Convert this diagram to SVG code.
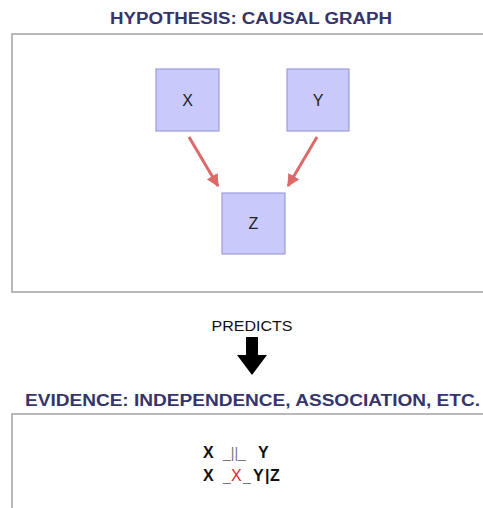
<svg xmlns="http://www.w3.org/2000/svg" width="483" height="508" viewBox="0 0 483 508">
<defs>
<style>
.title{font-family:"Liberation Sans",Arial,sans-serif;font-weight:bold;font-size:16px;fill:#35356a}
.panel{fill:#fff;stroke:#a8a8a8;stroke-width:1.6}
.node rect{fill:#c9c9fb;stroke:#9c9ce0;stroke-width:1.2}
.node text{font-family:"Liberation Sans",Arial,sans-serif;font-size:16px;fill:#222;text-anchor:middle}
.edge{stroke:#dc6a6a;stroke-width:3;fill:none;marker-end:url(#ah)}
.ev{font-family:"Liberation Sans",Arial,sans-serif;font-weight:bold;font-size:16px;fill:#111}
.sym{font-family:"Liberation Sans",Arial,sans-serif;font-size:14px;fill:#777}
</style>
<marker id="ah" viewBox="0 0 10 10" refX="9" refY="5" markerWidth="4.2" markerHeight="4.2" orient="auto" markerUnits="strokeWidth">
<path d="M0,0 L10,5 L0,10 Z" fill="#dc6a6a"/>
</marker>
</defs>
<rect width="483" height="508" fill="#fff"/>
<text class="title" x="251" y="24" text-anchor="middle" textLength="282" lengthAdjust="spacingAndGlyphs">HYPOTHESIS: CAUSAL GRAPH</text>
<rect class="panel" x="12" y="34" width="480" height="258"/>
<g id="edges">
<line class="edge" x1="189" y1="137" x2="218" y2="186"/>
<line class="edge" x1="317" y1="137" x2="288" y2="186"/>
</g>
<g id="X" class="node"><rect x="156" y="69" width="63" height="62"/><text x="187.5" y="106">X</text></g>
<g id="Y" class="node"><rect x="287" y="69" width="62" height="62"/><text x="318" y="106">Y</text></g>
<g id="Z" class="node"><rect x="222" y="193" width="63" height="61"/><text x="253.5" y="229">Z</text></g>
<g id="predicts">
<text x="252" y="331" text-anchor="middle" font-family="Liberation Sans, Arial, sans-serif" font-size="15.5" fill="#111" textLength="81" lengthAdjust="spacingAndGlyphs">PREDICTS</text>
<path d="M246,337 H258 V355 H267 L252,375 L237,355 H246 Z" fill="#000"/>
</g>
<text class="title" x="25" y="406" textLength="455" lengthAdjust="spacingAndGlyphs">EVIDENCE: INDEPENDENCE, ASSOCIATION, ETC.</text>
<rect class="panel" x="12" y="414" width="480" height="110"/>
<g id="evidence">
<text class="ev" x="203" y="458">X</text>
<text class="sym" x="223" y="458">_||_</text>
<text class="ev" x="258" y="458">Y</text>
<text class="ev" x="203" y="481">X</text>
<text class="sym" x="223" y="481">_</text>
<text x="231" y="481" font-family="Liberation Sans, Arial, sans-serif" font-size="16" fill="#d63030">X</text>
<text class="sym" x="243" y="481">_</text>
<text class="ev" x="253" y="481">Y</text>
<text class="ev" x="265" y="481" font-weight="normal">|</text>
<text class="ev" x="270" y="481">Z</text>
</g>
</svg>
